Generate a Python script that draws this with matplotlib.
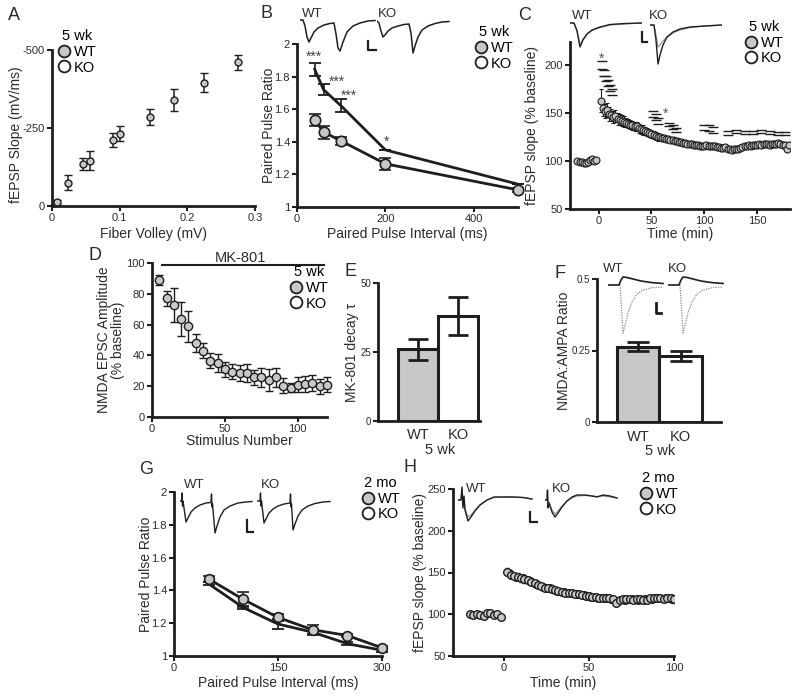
import matplotlib.pyplot as plt
from matplotlib.lines import Line2D
from matplotlib.ticker import FormatStrFormatter

plt.rcParams['font.family'] = ['Liberation Sans', 'DejaVu Sans']
INK = '#1e1e1e'
TXT = '#2b2b2b'
GREY = '#c8c8c8'

# ---------------- data ----------------
# A  input / output (5 wk)
a_fv = [0.008, 0.023, 0.046, 0.056, 0.090, 0.100, 0.145, 0.180, 0.225, 0.275]
a_slope = [-13, -75, -135, -145, -212, -232, -285, -340, -395, -460]
a_err = [5, 25, 20, 30, 22, 25, 25, 35, 30, 25]

# B  paired pulse ratio (5 wk)
b_int = [40, 60, 100, 200, 500]
b_wt = [1.535, 1.46, 1.405, 1.265, 1.105]
b_wt_err = [0.035, 0.04, 0.025, 0.035, 0.01]
b_ko = [1.845, 1.72, 1.62, 1.35, 1.14]
b_ko_err = [0.04, 0.035, 0.04, 0.0, 0.0]
b_star_x = [38, 90, 118, 202]
b_star_y = [1.92, 1.77, 1.68, 1.40]
b_star_txt = ['***', '***', '***', '*']

# C  LTP (5 wk)
c_base_t = [-20, -18, -16, -14, -12, -10, -8, -6, -4, -2]
c_base = [100, 99, 99, 98, 98, 99, 101, 102, 100, 101]
c_t = list(range(2, 181, 2))
c_wt = [163, 155, 152, 153, 149, 148, 146, 147, 144, 143,
        142, 141, 140, 139, 138, 137, 136, 136, 134, 133,
        132, 131, 130, 129, 128, 127, 126, 125, 125, 124,
        124, 123, 123, 122, 122, 121, 121, 120, 120, 119,
        119, 118, 118, 118, 117, 117, 117, 116, 116, 116,
        117, 116, 116, 116, 116, 115, 115, 114, 114, 115,
        113, 112, 111, 112, 113, 112, 114, 115, 116, 116,
        117, 116, 117, 117, 117, 118, 117, 118, 118, 118,
        117, 118, 118, 118, 119, 118, 117, 117, 112, 117]
c_wt_err = [12, 8, 7, 7, 7, 6, 6, 6, 6, 6,
            6, 6, 5, 5, 5, 5, 5, 5, 5, 5,
            5, 4, 4, 4, 4, 4, 4, 4, 3, 3,
            3, 3, 3, 3, 3, 3, 3, 3, 3, 3,
            3, 3, 3, 3, 3, 3, 3, 3, 3, 3,
            3, 3, 3, 3, 3, 3, 3, 3, 3, 3,
            3, 3, 3, 3, 3, 3, 3, 3, 3, 3,
            3, 3, 3, 3, 3, 3, 3, 3, 3, 3,
            3, 3, 3, 3, 3, 3, 3, 3, 3, 3]
c_ko_t = [3, 5, 7, 9, 11, 13, 51, 54, 56, 67, 70, 73, 100, 104, 108,
          122, 130, 138, 146, 154, 162, 170, 176]
c_ko = [200, 192, 186, 181, 176, 172, 149, 146, 142, 138, 135, 132, 135, 134, 132,
        129, 131, 130, 130, 131, 130, 129, 129]
c_ko_err = [4, 3, 3, 3, 3, 3, 3, 3, 3, 2, 2, 2, 3, 3, 3,
            2, 1.5, 1.5, 1.5, 1.5, 1.5, 1.5, 1.5]
c_star_x = [3, 63]
c_star_y = [207, 149]

# D  MK-801 block (5 wk)
d_stim = [5, 10, 15, 20, 25, 30, 35, 40, 45, 50, 55, 60,
          65, 70, 75, 80, 85, 90, 95, 100, 105, 110, 115, 120]
d_amp = [89, 77, 73, 63.5, 59, 48, 43, 36.5, 35, 31, 29.5, 28.7,
         28.7, 25.7, 25.7, 24, 25.7, 20.4, 19, 21, 21.4, 22, 20, 21]
d_err = [3, 5, 11, 11, 10, 6, 5, 5, 6, 5, 5, 5,
         6, 5, 6, 7, 6, 5, 3, 5, 5, 5, 5, 5]
mk801_span = [7, 118]
mk801_level = 98.5

# E  MK-801 decay tau
e_geno = ['WT', 'KO']
e_tau = [26, 38]
e_err = [3.8, 6.8]

# F  NMDA:AMPA ratio
f_ratio = [0.263, 0.232]
f_err = [0.015, 0.017]

# G  paired pulse ratio (2 mo)
g_int = [50, 100, 150, 200, 250, 300]
g_wt = [1.47, 1.345, 1.235, 1.16, 1.125, 1.05]
g_wt_err = [0.02, 0.045, 0.02, 0.03, 0.01, 0.01]
g_ko = [1.44, 1.295, 1.195, 1.145, 1.075, 1.035]
g_ko_err = [0.01, 0.01, 0.03, 0.01, 0.01, 0.01]

# H  LTP (2 mo)
h_base_t = [-20, -18, -16, -14, -12, -10, -8, -6, -4, -2]
h_base = [100, 99, 100, 99, 98, 102, 101, 99, 100, 97]
h_t = list(range(2, 101, 2))
h_wt = [151, 147, 146, 145, 143, 142, 141, 139, 137, 135,
        134, 132, 131, 130, 129, 128, 127, 126, 126, 125,
        124, 124, 123, 122, 122, 121, 121, 120, 120, 119,
        119, 118, 114, 117, 118, 118, 118, 117, 118, 118,
        117, 117, 119, 119, 120, 119, 118, 120, 119, 118]
h_wt_err = [4, 4, 4, 4, 4, 4, 4, 3, 3, 3,
            3, 3, 3, 3, 3, 3, 3, 3, 3, 3,
            3, 3, 3, 3, 3, 3, 3, 3, 3, 3,
            3, 3, 3, 3, 3, 3, 3, 3, 3, 3,
            3, 3, 3, 3, 3, 3, 3, 3, 4, 4]
h_ko_t = list(range(3, 100, 4))
h_ko = [149, 145, 143, 140, 136, 133, 131, 128, 127, 125, 124, 123, 121,
        120, 119, 118, 116, 117, 118, 117, 118, 118, 119, 119, 118]

# example traces (pixel-scaled samples, positive = downward deflection)
trB_wt_t = [0, 3, 5, 7, 9, 11, 14, 18, 24, 30, 34, 36, 38, 40, 43, 47, 53, 60, 68, 75]
trB_wt_v = [0, 0, 6, 17, 22, 18, 12, 8, 5, 3.5, 3, 14, 28, 31, 22, 12, 6, 3, 1, 0.5]
trB_ko_t = [0, 2, 4, 6, 8, 11, 15, 21, 27, 32, 34, 36, 38, 41, 45, 51, 58, 65, 72]
trB_ko_v = [0, 2, 10, 16, 14, 10, 7, 5, 3.5, 3, 12, 32, 25, 16, 9, 5, 2.5, 1, 0.5]

trC_t = [0, 4, 7, 10, 13, 17, 22, 30, 40, 55, 72]
trC_wt_a = [0, 0, 8, 24, 17, 11, 7, 4, 1.5, 0.5, 0]
trC_wt_b = [0, 0, 7, 22, 16, 11, 7.5, 4.5, 2, 1, 0]
trC_ko_t = [0, 4, 6, 8, 10, 13, 17, 23, 30, 40, 55, 72]
trC_ko_a = [0, 0, 15, 39, 30, 20, 12, 7, 4, 2, 1, 0]
trC_ko_b = [0, 0, 10, 22, 20, 16, 12, 8, 5, 2.5, 1, 0]

trF_nmda_t = [0, 11, 13, 15, 19, 25, 33, 43, 55]
trF_nmda_v = [0, 0, -5, -8, -7.5, -6, -4, -2.5, -1.5]
trF_ampa_t = [12, 13, 15, 17, 20, 24, 29, 35, 45, 55]
trF_ampa_v = [0, 15, 48, 40, 28, 17, 9, 5, 2.5, 2]

trG_wt_t = [0, 1.5, 2, 2.5, 3, 6, 8, 11, 15, 20, 26, 31, 31.5, 32, 32.5, 35, 37, 40, 44, 50, 58, 66, 72]
trG_wt_v = [0, 0, -8, 5, 0, 21, 17, 11, 7, 4, 2, 1.5, -7, 6, 3, 32, 25, 16, 9, 5, 2, 1, 0.5]
trG_ko_t = [0, 3, 3.5, 4, 4.5, 7, 9, 12, 16, 21, 27, 33, 33.5, 34, 34.5, 36, 38, 41, 45, 51, 58, 66, 73]
trG_ko_v = [0, 0, -8, 5, 0, 22, 18, 12, 8, 5, 3, 2, -7, 6, 3, 29, 23, 15, 9, 5, 2.5, 1, 0.5]

trH_wt_t = [0, 3, 4, 5, 6, 7, 10, 13, 17, 22, 29, 36, 45, 55, 65, 74]
trH_wt_a = [0, 0, -13, 8, -4, 10, 21, 17, 11, 5, 0, -3, -3, -3, -2.5, -1]
trH_wt_b = [0, 0, -11, 6, -3, 9, 17, 15, 10, 5, 0, -2.5, -3, -3, -2.5, -1]
trH_ko_t = [0, 2, 2.5, 3, 4, 7, 10, 13, 17, 22, 27, 32, 40, 47, 52, 58, 65, 72]
trH_ko_a = [0, 0, -10, 8, 3, 12, 17, 13, 7, 1, -3, -5, -5, -4, -3, -5, -4, -2]
trH_ko_b = [0, 0, -8, 6, 2, 10, 14, 11, 6, 1, -2, -4, -4.5, -4, -3.5, -4, -3, -2]

# ---------------- figure ----------------
W, H = 800, 698
fig = plt.figure(figsize=(8, 6.98), dpi=100)


def panel(l, t, r, b, tsize=8):
    ax = fig.add_axes([l / W, 1 - b / H, (r - l) / W, (b - t) / H])
    for s in ['top', 'right']:
        ax.spines[s].set_visible(False)
    for s in ['left', 'bottom']:
        ax.spines[s].set_linewidth(2)
        ax.spines[s].set_color(INK)
    ax.tick_params(direction='out', length=3.5, width=1.5, labelsize=tsize,
                   color=INK, labelcolor=TXT, pad=1.5)
    ax.box = (l, t, r, b)
    return ax


def labels(ax, xlab, xy, ylab, yx, yy=None, size=10):
    l, t, r, b = ax.box
    if xlab:
        ax.set_xlabel(xlab, fontsize=size, color=TXT, va='center')
        ax.xaxis.set_label_coords(0.5, (b - xy) / (b - t))
    ax.set_ylabel(ylab, fontsize=size, color=TXT, va='center', linespacing=1.0)
    yy = (t + b) / 2 if yy is None else yy
    ax.yaxis.set_label_coords((yx - l) / (r - l), (b - yy) / (b - t))


def key(x, y, title):
    hs = [Line2D([], [], ls='none', marker='o', ms=8.5, mfc=GREY, mec=INK, mew=1.3),
          Line2D([], [], ls='none', marker='o', ms=8.5, mfc='white', mec=INK, mew=1.3)]
    fig.legend(hs, ['WT', 'KO'], title=title, loc='upper left',
               bbox_to_anchor=(x / W, 1 - y / H), frameon=False, fontsize=10.5,
               title_fontsize=10.5, handlelength=0.9, handletextpad=0.25,
               labelspacing=0.12, borderpad=0, borderaxespad=0)


def letter(x, y, s):
    fig.text(x / W, 1 - y / H, s, fontsize=13, color=TXT, ha='center', va='center')


def trace_ax(l, base, w, down, up=10):
    ax = fig.add_axes([l / W, 1 - (base + down) / H, w / W, (down + up) / H])
    ax.set_xlim(0, w)
    ax.set_ylim(down, -up)
    ax.axis('off')
    return ax


def scalebar(x, y, h, w, lw=1.6):
    ax = fig.add_axes([x / W, 1 - (y + h) / H, w / W, h / H])
    ax.set_xlim(0, w)
    ax.set_ylim(h, 0)
    ax.axis('off')
    ax.plot([0, 0, w], [0, h, h], color=INK, lw=lw, clip_on=False)


def tlabel(x, y, s):
    fig.text(x / W, 1 - y / H, s, fontsize=9.5, color=TXT, ha='center', va='center')


def note(x, y, s):
    fig.text(x / W, 1 - y / H, s, fontsize=10.5, color=TXT, ha='center', va='center')


# ---- A
ax = panel(52, 50, 255, 206)
ax.errorbar(a_fv, a_slope, yerr=a_err, fmt='o', ms=5, mfc=GREY, mec=INK, mew=1,
            ecolor=INK, elinewidth=1.1, capsize=3, capthick=1.1, clip_on=False, zorder=3)
ax.set_xlim(0, 0.3)
ax.set_ylim(0, -500)
ax.set_xticks([0, 0.1, 0.2, 0.3])
ax.set_xticklabels(['0', '0.1', '0.2', '0.3'])
ax.set_yticks([0, -250, -500])
ax.set_yticklabels(['0', '-250', '-500'])
labels(ax, 'Fiber Volley (mV)', 234, 'fEPSP Slope (mV/ms)', 16, yy=135)
key(57, 29, '5 wk')
letter(14, 15, 'A')

# ---- B
ax = panel(297, 44, 518, 207)
ax.errorbar(b_int, b_ko, yerr=b_ko_err, color=INK, lw=2, elinewidth=1.2,
            capsize=4, capthick=1.3, zorder=2, clip_on=False)
ax.errorbar(b_int, b_wt, yerr=b_wt_err, color=INK, lw=2, marker='o', ms=7.5,
            mfc=GREY, mec=INK, mew=1.2, elinewidth=1.2, capsize=4, capthick=1.3,
            zorder=3, clip_on=False)
for sx, sy, st in zip(b_star_x, b_star_y, b_star_txt):
    ax.text(sx, sy, st, fontsize=10, color='#444444', ha='center', va='center')
ax.set_xlim(0, 500)
ax.set_ylim(1, 2)
ax.set_xticks([0, 200, 400])
ax.set_yticks([1, 1.2, 1.4, 1.6, 1.8, 2])
ax.yaxis.set_major_formatter(FormatStrFormatter('%g'))
labels(ax, 'Paired Pulse Interval (ms)', 234, 'Paired Pulse Ratio', 269)
key(474, 25, '5 wk')
letter(266, 14, 'B')
tax = trace_ax(300, 20, 76, 36)
tax.plot(trB_wt_t, trB_wt_v, color=INK, lw=1.1)
tax = trace_ax(377, 21, 76, 36)
tax.plot(trB_ko_t, trB_ko_v, color=INK, lw=1.1)
scalebar(368, 41, 9, 8)
tlabel(312, 14, 'WT')
tlabel(387, 14, 'KO')

# ---- C
ax = panel(570, 42, 790, 209)
ax.errorbar(c_ko_t, c_ko, yerr=c_ko_err, fmt='none', ecolor=INK, elinewidth=0,
            capsize=3.5, capthick=1.0, zorder=2)
ax.errorbar(c_base_t, c_base, fmt='o', ms=5, mfc=GREY, mec=INK, mew=0.8, zorder=3)
ax.errorbar(c_t, c_wt, yerr=c_wt_err, fmt='o', ms=5, mfc=GREY, mec=INK, mew=0.8,
            ecolor=INK, elinewidth=0.8, capsize=1.5, capthick=0.8, zorder=3)
for sx, sy in zip(c_star_x, c_star_y):
    ax.text(sx, sy, '*', fontsize=10, color='#555555', ha='center', va='center')
ax.set_xlim(-27, 181)
ax.set_ylim(50, 224)
ax.set_xticks([0, 50, 100, 150])
ax.set_yticks([50, 100, 150, 200])
labels(ax, 'Time (min)', 234, 'fEPSP slope (% baseline)', 532)
key(744, 20, '5 wk')
letter(525, 15, 'C')
tax = trace_ax(570, 23, 72, 42)
tax.plot(trC_t, trC_wt_b, color='#9a9a9a', lw=0.9)
tax.plot(trC_t, trC_wt_a, color=INK, lw=1.0)
tax = trace_ax(650, 25, 72, 42)
tax.plot(trC_ko_t, trC_ko_b, color='#9a9a9a', lw=0.9)
tax.plot(trC_ko_t, trC_ko_a, color=INK, lw=1.0)
scalebar(642, 32, 10, 5)
tlabel(582, 16, 'WT')
tlabel(658, 16, 'KO')

# ---- D
ax = panel(152, 263, 327, 417)
ax.errorbar(d_stim, d_amp, yerr=d_err, fmt='o', ms=6, mfc=GREY, mec=INK, mew=1,
            ecolor=INK, elinewidth=1, capsize=3, capthick=1, clip_on=False, zorder=3)
ax.plot(mk801_span, [mk801_level, mk801_level], color=INK, lw=1.5, clip_on=False)
ax.text(sum(mk801_span) / 2 - 2, mk801_level + 5, 'MK-801', fontsize=10.5,
        color=TXT, ha='center', va='center')
ax.set_xlim(0, 120)
ax.set_ylim(0, 100)
ax.set_xticks([0, 50, 100])
ax.set_yticks([0, 20, 40, 60, 80, 100])
labels(ax, 'Stimulus Number', 441, 'NMDA EPSC Amplitude\n(% baseline)', 111)
key(289, 265, '5 wk')
letter(95, 255, 'D')

# ---- E
ax = panel(378, 283, 480, 421, tsize=7)
ax.bar([0, 1], e_tau, width=1.0, color=[GREY, 'white'], edgecolor=INK, lw=2.2, zorder=2)
ax.errorbar([0, 1], e_tau, yerr=e_err, fmt='none', ecolor=INK, elinewidth=2,
            capsize=7, capthick=2, zorder=3)
ax.set_xlim(-1.0, 1.55)
ax.set_ylim(0, 50)
ax.set_yticks([0, 25, 50])
ax.set_xticks([0, 1])
ax.set_xticklabels(e_geno, fontsize=10.5)
ax.tick_params(axis='x', length=0, pad=5)
labels(ax, None, None, 'MK-801 decay τ', 352)
note(440, 450, '5 wk')
letter(350, 272, 'E')

# ---- F
ax = panel(597, 279, 721, 422, tsize=7)
ax.bar([0, 1], f_ratio, width=1.0, color=[GREY, 'white'], edgecolor=INK, lw=2.2, zorder=2)
ax.errorbar([0, 1], f_ratio, yerr=f_err, fmt='none', ecolor=INK, elinewidth=2,
            capsize=8, capthick=2, zorder=3)
ax.set_xlim(-0.965, 1.95)
ax.set_ylim(0, 0.5)
ax.set_yticks([0, 0.25, 0.5])
ax.yaxis.set_major_formatter(FormatStrFormatter('%g'))
ax.set_xticks([0, 1])
ax.set_xticklabels(e_geno, fontsize=10.5)
ax.tick_params(axis='x', length=0, pad=6)
labels(ax, None, None, 'NMDA:AMPA Ratio', 564)
note(660, 451, '5 wk')
letter(560, 273, 'F')
for x0 in [608, 668]:
    tax = trace_ax(x0, 285, 60, 50)
    tax.plot(trF_ampa_t, trF_ampa_v, color='#8a8a8a', lw=0.9, ls=(0, (1, 1)))
    tax.plot(trF_nmda_t, trF_nmda_v, color=INK, lw=1.2)
scalebar(656, 303, 10, 5, lw=2)
tlabel(613, 269, 'WT')
tlabel(677, 269, 'KO')

# ---- G
ax = panel(174, 492, 382, 656)
ax.errorbar(g_int, g_ko, yerr=g_ko_err, color=INK, lw=2, elinewidth=1.2,
            capsize=4, capthick=1.3, zorder=2, clip_on=False)
ax.errorbar(g_int, g_wt, yerr=g_wt_err, color=INK, lw=2, marker='o', ms=7,
            mfc=GREY, mec=INK, mew=1.2, elinewidth=1.2, capsize=4, capthick=1.3,
            zorder=3, clip_on=False)
ax.set_xlim(0, 300)
ax.set_ylim(1, 2)
ax.set_xticks([0, 150, 300])
ax.set_yticks([1, 1.2, 1.4, 1.6, 1.8, 2])
ax.yaxis.set_major_formatter(FormatStrFormatter('%g'))
labels(ax, 'Paired Pulse Interval (ms)', 683, 'Paired Pulse Ratio', 146)
key(361, 476, '2 mo')
letter(146, 470, 'G')
tax = trace_ax(180, 501, 74, 35)
tax.plot(trG_wt_t, trG_wt_v, color=INK, lw=1.0)
tax = trace_ax(257, 501, 74, 35)
tax.plot(trG_ko_t, trG_ko_v, color=INK, lw=1.0)
scalebar(247, 520, 12, 6)
tlabel(194, 485, 'WT')
tlabel(270, 485, 'KO')

# ---- H
ax = panel(453, 489, 674, 656)
ax.errorbar(h_ko_t, h_ko, fmt='o', ms=5.5, mfc='white', mec=INK, mew=1, zorder=2)
ax.errorbar(h_base_t, h_base, fmt='o', ms=5.5, mfc=GREY, mec=INK, mew=1, zorder=3)
ax.errorbar(h_t, h_wt, yerr=h_wt_err, fmt='o', ms=5.5, mfc=GREY, mec=INK, mew=1,
            ecolor=INK, elinewidth=0.8, capsize=1.5, capthick=0.8, zorder=3)
ax.set_xlim(-30, 100)
ax.set_ylim(50, 250)
ax.set_xticks([0, 50, 100])
ax.set_yticks([50, 100, 150, 200, 250])
labels(ax, 'Time (min)', 683, 'fEPSP slope (% baseline)', 420)
key(639, 471, '2 mo')
letter(410, 468, 'H')
tax = trace_ax(458, 500, 76, 26, up=16)
tax.plot(trH_wt_t, trH_wt_b, color='#9a9a9a', lw=0.9)
tax.plot(trH_wt_t, trH_wt_a, color=INK, lw=1.0)
tax = trace_ax(545, 500, 74, 26, up=16)
tax.plot(trH_ko_t, trH_ko_b, color='#9a9a9a', lw=0.9)
tax.plot(trH_ko_t, trH_ko_a, color=INK, lw=1.0)
scalebar(530, 512, 10, 7)
tlabel(476, 489, 'WT')
tlabel(561, 489, 'KO')

fig.savefig('out.png', dpi=100)
